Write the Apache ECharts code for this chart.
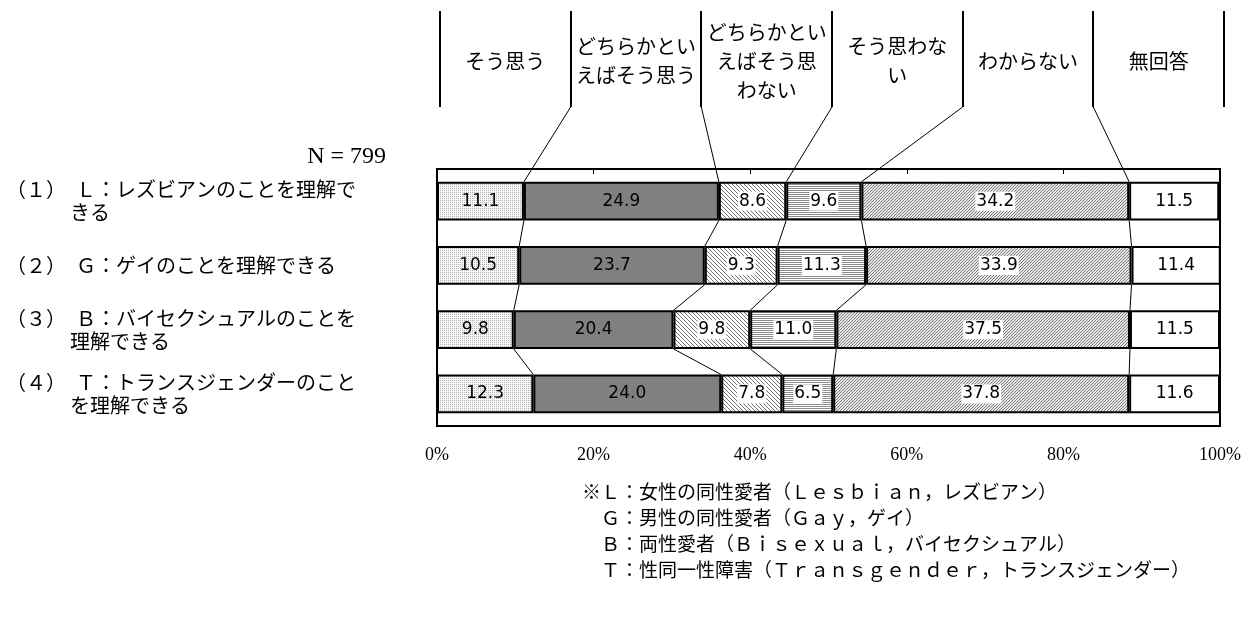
<!DOCTYPE html>
<html>
<head>
<meta charset="utf-8">
<script src="https://cdn.jsdelivr.net/npm/echarts@6/dist/echarts.min.js"></script>
<style>
  html, body { margin: 0; padding: 0; background: #fff; }
  #chart { width: 1244px; height: 620px; }
</style>
</head>
<body>
<div id="chart"></div>
<script>
// Response categories (header columns, left to right)
const categories = ['そう思う', 'どちらかといえばそう思う', 'どちらかといえばそう思わない', 'そう思わない', 'わからない', '無回答'];
const headerLabels = ['そう思う', 'どちらかとい\nえばそう思う', 'どちらかとい\nえばそう思\nわない', 'そう思わな\nい', 'わからない', '無回答'];

// Question rows (each entry: first line, continuation line)
const rowLabels = [
  ['（１）　Ｌ：レズビアンのことを理解で', 'きる'],
  ['（２）　Ｇ：ゲイのことを理解できる', ''],
  ['（３）　Ｂ：バイセクシュアルのことを', '理解できる'],
  ['（４）　Ｔ：トランスジェンダーのこと', 'を理解できる']
];

// Percentages per category, one value per row
const soOmou      = [11.1, 10.5, 9.8, 12.3];
const dochiraSo   = [24.9, 23.7, 20.4, 24.0];
const dochiraNot  = [8.6, 9.3, 9.8, 7.8];
const omowanai    = [9.6, 11.3, 11.0, 6.5];
const wakaranai   = [34.2, 33.9, 37.5, 37.8];
const mukaito     = [11.5, 11.4, 11.5, 11.6];

const xTicks = [0, 20, 40, 60, 80, 100];
const sampleNote = 'N = 799';
const footnotes = [
  '※Ｌ：女性の同性愛者（Ｌｅｓｂｉａｎ，レズビアン）',
  '　Ｇ：男性の同性愛者（Ｇａｙ，ゲイ）',
  '　Ｂ：両性愛者（Ｂｉｓｅｘｕａｌ，バイセクシュアル）',
  '　Ｔ：性同一性障害（Ｔｒａｎｓｇｅｎｄｅｒ，トランスジェンダー）'
];

const seriesValues = [soOmou, dochiraSo, dochiraNot, omowanai, wakaranai, mukaito];

// ---- layout ----
const GRID = { left: 437, right: 22, top: 169, bottom: 194 };
const HEAD = { left: 440, right: 1224, top: 11, bottom: 107, midY: 61 };
const colW = (HEAD.right - HEAD.left) / 6;
const BAR_RATIO = 0.6;
const JP = '"Noto Sans CJK JP", "Noto Sans", sans-serif';
const NUM = '"DejaVu Sans", "Noto Sans", sans-serif';
const SERIF = '"Liberation Serif", "DejaVu Serif", serif';

// ---- fill patterns ----
function tile(w, h, bg, fg, pts) {
  const c = document.createElement('canvas');
  c.width = w; c.height = h;
  const g = c.getContext('2d');
  g.fillStyle = bg; g.fillRect(0, 0, w, h);
  g.fillStyle = fg;
  pts.forEach(p => g.fillRect(p[0], p[1], 1, 1));
  return c;
}
const dots = tile(2, 2, '#f8f8f8', '#b4b4b4', [[0, 0]]);
const backHatch = tile(4, 4, '#ffffff', '#707070', [[0, 0], [1, 1], [2, 2], [3, 3]]);
const horizLines = tile(2, 2, '#ffffff', '#8c8c8c', [[0, 0], [1, 0]]);
const fwdHatch = tile(3, 3, '#e8e8e8', '#7a7a7a', [[2, 0], [1, 1], [0, 2]]);

const fills = [
  { image: dots, repeat: 'repeat' },
  '#808080',
  { image: backHatch, repeat: 'repeat' },
  { image: horizLines, repeat: 'repeat' },
  { image: fwdHatch, repeat: 'repeat' },
  '#ffffff'
];
const labelBoxed = [false, false, true, true, true, false];

function cum(row, k) {
  let s = 0;
  for (let i = 0; i < k; i++) s += seriesValues[i][row];
  return s;
}

const barSeries = categories.map((name, i) => ({
  name,
  type: 'bar',
  stack: 'total',
  barWidth: (BAR_RATIO * 100) + '%',
  data: seriesValues[i],
  itemStyle: { color: fills[i], borderColor: '#000', borderWidth: 2 },
  label: {
    show: true,
    position: 'inside',
    formatter: p => p.value.toFixed(1),
    color: '#000',
    fontFamily: NUM,
    fontSize: 17,
    backgroundColor: labelBoxed[i] ? '#fff' : 'transparent',
    padding: labelBoxed[i] ? [1, 1] : 0
  },
  emphasis: { disabled: true },
  z: 3
}));

// Connector lines: header dividers to first bar, and between consecutive bars
const connectorData = [];
for (let k = 1; k <= 5; k++) connectorData.push([0, 0, -1, k]);
for (let r = 0; r < rowLabels.length - 1; r++) {
  for (let k = 1; k <= 5; k++) connectorData.push([0, 0, r, k]);
}

const connectorSeries = {
  type: 'custom',
  name: 'connectors',
  coordinateSystem: 'cartesian2d',
  encode: { x: 0, y: 1 },
  silent: true,
  z: 2,
  data: connectorData,
  renderItem: function (params, api) {
    const r = api.value(2), k = api.value(3);
    const half = api.size([0, 1])[1] * BAR_RATIO / 2;
    let x1, y1, x2, y2;
    if (r < 0) {
      x1 = HEAD.left + k * colW;
      y1 = HEAD.bottom;
      const p = api.coord([cum(0, k), 0]);
      x2 = p[0]; y2 = p[1] - half;
    } else {
      const a = api.coord([cum(r, k), r]);
      const b = api.coord([cum(r + 1, k), r + 1]);
      x1 = a[0]; y1 = a[1] + half;
      x2 = b[0]; y2 = b[1] - half;
    }
    return {
      type: 'line',
      shape: { x1, y1, x2, y2 },
      style: { stroke: '#000', lineWidth: 1 }
    };
  }
};

// Header: dividers and category names
const graphics = [];
for (let k = 0; k <= 6; k++) {
  const x = Math.round(HEAD.left + k * colW);
  graphics.push({
    type: 'line',
    shape: { x1: x, y1: HEAD.top, x2: x, y2: HEAD.bottom },
    style: { stroke: '#000', lineWidth: 2 },
    silent: true
  });
}
headerLabels.forEach((t, k) => {
  graphics.push({
    type: 'text',
    x: HEAD.left + (k + 0.5) * colW,
    y: HEAD.midY,
    style: {
      text: t, fill: '#000', font: '20px ' + JP,
      align: 'center', verticalAlign: 'middle', lineHeight: 29
    },
    silent: true
  });
});
graphics.push({
  type: 'text', x: 386, y: 157,
  style: { text: sampleNote, fill: '#000', font: '24px ' + SERIF, align: 'right', verticalAlign: 'middle' },
  silent: true
});
graphics.push({
  type: 'text', x: 582, y: 479,
  style: {
    text: footnotes.join('\n'), fill: '#000', font: '19px ' + JP,
    align: 'left', verticalAlign: 'top', lineHeight: 26
  },
  silent: true
});

const chart = echarts.init(document.getElementById('chart'), null, { renderer: 'canvas' });
chart.setOption({
  animation: false,
  backgroundColor: '#fff',
  grid: Object.assign({ show: true, borderColor: '#000', borderWidth: 2, backgroundColor: 'transparent' }, GRID),
  xAxis: [
    {
      type: 'value', min: xTicks[0], max: xTicks[xTicks.length - 1], interval: 20,
      position: 'bottom',
      axisLine: { show: false }, axisTick: { show: false }, splitLine: { show: false },
      axisLabel: { formatter: '{value}%', color: '#000', fontFamily: SERIF, fontSize: 18, margin: 20 }
    },
    {
      type: 'value', min: xTicks[0], max: xTicks[xTicks.length - 1], interval: 20,
      position: 'top',
      axisLine: { show: false },
      axisTick: { show: true, inside: true, length: 5, lineStyle: { color: '#000', width: 1 } },
      axisLabel: { show: false }, splitLine: { show: false }
    }
  ],
  yAxis: {
    type: 'category',
    inverse: true,
    data: rowLabels.map((l, i) => i),
    axisLine: { show: false }, axisTick: { show: false },
    axisLabel: {
      align: 'left',
      margin: GRID.left - 6,
      formatter: function (v, idx) {
        const l = rowLabels[idx];
        let s = '{t|' + l[0] + '}';
        if (l[1]) s += '\n{ind| }{t|' + l[1] + '}';
        return s;
      },
      rich: {
        t: { fontFamily: JP, fontSize: 20, color: '#000', lineHeight: 23 },
        ind: { width: 64, fontSize: 20, lineHeight: 23 }
      }
    }
  },
  series: barSeries.concat([connectorSeries]),
  graphic: graphics
});
</script>
</body>
</html>
